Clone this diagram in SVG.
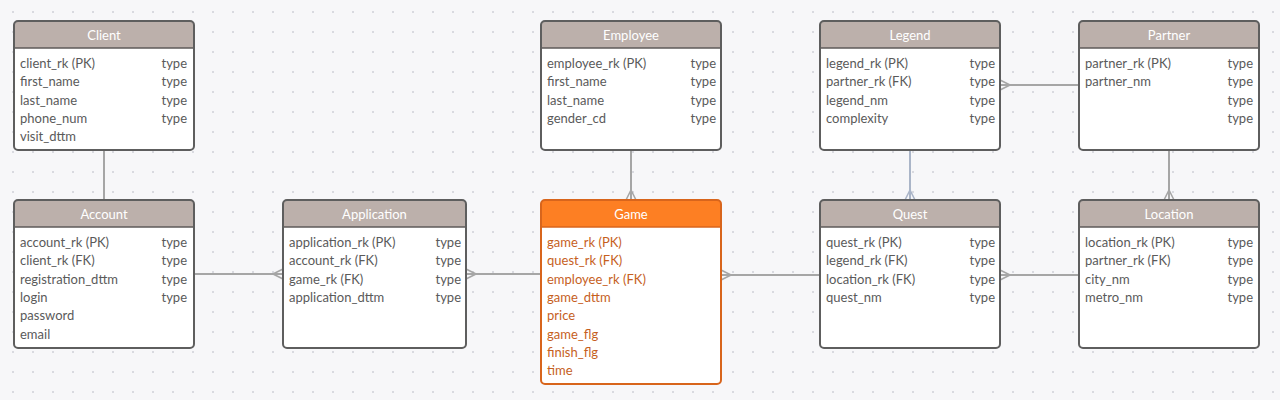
<svg xmlns="http://www.w3.org/2000/svg" width="1280" height="400" viewBox="0 0 1280 400">
<defs>
<pattern id="grid" x="3" y="2" width="20" height="20" patternUnits="userSpaceOnUse">
<circle cx="10" cy="10" r="1" fill="#cfd0d8"/>
</pattern>
<marker id="crow" markerUnits="userSpaceOnUse" markerWidth="16" markerHeight="16" refX="12" refY="8" orient="auto" viewBox="0 0 16 16">
<path d="M2,8 L12,3 M2,8 L12,13 M2,8 L12,8" fill="none" stroke="#a6a6a6" stroke-width="1.6"/>
</marker>
<marker id="crowB" markerUnits="userSpaceOnUse" markerWidth="16" markerHeight="16" refX="12" refY="8" orient="auto" viewBox="0 0 16 16">
<path d="M2,8 L12,3 M2,8 L12,13 M2,8 L12,8" fill="none" stroke="#aab5c8" stroke-width="1.6"/>
</marker>
</defs>
<style>
text{font-family:Lato,"Open Sans","Liberation Sans",sans-serif;font-size:13px}
.body{fill:#ffffff}
.hdr{fill:#bcb0ab}
.sep{stroke:#5e5a59;stroke-width:1.5}
.frame{fill:none;stroke:#5e5e5e;stroke-width:2}
.title{fill:#ffffff;text-anchor:middle}
.f{fill:#5a5a5a}
.t{fill:#5a5a5a;text-anchor:end}
.ghdr{fill:#fd7f23}
.gsep{stroke:#d8651c;stroke-width:1.5}
.gframe{fill:none;stroke:#d8651c;stroke-width:2}
.g{fill:#c65f1e}
.conn{fill:none;stroke:#a6a6a6;stroke-width:2}
.connB{fill:none;stroke:#aab5c8;stroke-width:2}
</style>
<rect width="1280" height="400" fill="#f7f7f9"/>
<rect width="1280" height="400" fill="url(#grid)"/>

<g id="connectors">
<path class="conn" d="M104,150 V200"/>
<path class="conn" d="M194,274 H283" marker-end="url(#crow)"/>
<path class="conn" d="M541,274 H466" marker-end="url(#crow)"/>
<path class="conn" d="M631,150 V200" marker-end="url(#crow)"/>
<path class="conn" d="M821,275 H721" marker-end="url(#crow)"/>
<path class="connB" d="M910,150 V200" marker-end="url(#crowB)"/>
<path class="conn" d="M1079,85 H1000" marker-end="url(#crow)"/>
<path class="conn" d="M1079,275 H1000" marker-end="url(#crow)"/>
<path class="conn" d="M1169,150 V200" marker-end="url(#crow)"/>
</g>

<g id="client" transform="translate(14,21)">
<rect class="body" width="180" height="129" rx="4"/>
<path class="hdr" d="M0,27 V4 Q0,0 4,0 H176 Q180,0 180,4 V27 Z"/>
<line class="sep" x1="0" y1="27" x2="180" y2="27"/>
<rect class="frame" width="180" height="129" rx="4"/>
<text class="title" x="90" y="19">Client</text>
<text class="f" x="6" y="47">client_rk (PK)</text><text class="t" x="173" y="47">type</text>
<text class="f" x="6" y="65.3">first_name</text><text class="t" x="173" y="65.3">type</text>
<text class="f" x="6" y="83.6">last_name</text><text class="t" x="173" y="83.6">type</text>
<text class="f" x="6" y="101.9">phone_num</text><text class="t" x="173" y="101.9">type</text>
<text class="f" x="6" y="120.2">visit_dttm</text>
</g>

<g id="account" transform="translate(14,200)">
<rect class="body" width="180" height="148" rx="4"/>
<path class="hdr" d="M0,27 V4 Q0,0 4,0 H176 Q180,0 180,4 V27 Z"/>
<line class="sep" x1="0" y1="27" x2="180" y2="27"/>
<rect class="frame" width="180" height="148" rx="4"/>
<text class="title" x="90" y="19">Account</text>
<text class="f" x="6" y="47">account_rk (PK)</text><text class="t" x="173" y="47">type</text>
<text class="f" x="6" y="65.3">client_rk (FK)</text><text class="t" x="173" y="65.3">type</text>
<text class="f" x="6" y="83.6">registration_dttm</text><text class="t" x="173" y="83.6">type</text>
<text class="f" x="6" y="101.9">login</text><text class="t" x="173" y="101.9">type</text>
<text class="f" x="6" y="120.2">password</text>
<text class="f" x="6" y="138.5">email</text>
</g>

<g id="application" transform="translate(283,200)">
<rect class="body" width="183" height="148" rx="4"/>
<path class="hdr" d="M0,27 V4 Q0,0 4,0 H179 Q183,0 183,4 V27 Z"/>
<line class="sep" x1="0" y1="27" x2="183" y2="27"/>
<rect class="frame" width="183" height="148" rx="4"/>
<text class="title" x="91.5" y="19">Application</text>
<text class="f" x="6" y="47">application_rk (PK)</text><text class="t" x="178" y="47">type</text>
<text class="f" x="6" y="65.3">account_rk (FK)</text><text class="t" x="178" y="65.3">type</text>
<text class="f" x="6" y="83.6">game_rk (FK)</text><text class="t" x="178" y="83.6">type</text>
<text class="f" x="6" y="101.9">application_dttm</text><text class="t" x="178" y="101.9">type</text>
</g>

<g id="employee" transform="translate(541,21)">
<rect class="body" width="180" height="129" rx="4"/>
<path class="hdr" d="M0,27 V4 Q0,0 4,0 H176 Q180,0 180,4 V27 Z"/>
<line class="sep" x1="0" y1="27" x2="180" y2="27"/>
<rect class="frame" width="180" height="129" rx="4"/>
<text class="title" x="90" y="19">Employee</text>
<text class="f" x="6" y="47">employee_rk (PK)</text><text class="t" x="175" y="47">type</text>
<text class="f" x="6" y="65.3">first_name</text><text class="t" x="175" y="65.3">type</text>
<text class="f" x="6" y="83.6">last_name</text><text class="t" x="175" y="83.6">type</text>
<text class="f" x="6" y="101.9">gender_cd</text><text class="t" x="175" y="101.9">type</text>
</g>

<g id="game" transform="translate(541,200)">
<rect class="body" width="180" height="184" rx="4"/>
<path class="ghdr" d="M0,27 V4 Q0,0 4,0 H176 Q180,0 180,4 V27 Z"/>
<line class="gsep" x1="0" y1="27" x2="180" y2="27"/>
<rect class="gframe" width="180" height="184" rx="4"/>
<text class="title" x="90" y="19">Game</text>
<text class="g" x="6" y="47">game_rk (PK)</text>
<text class="g" x="6" y="65.3">quest_rk (FK)</text>
<text class="g" x="6" y="83.6">employee_rk (FK)</text>
<text class="g" x="6" y="101.9">game_dttm</text>
<text class="g" x="6" y="120.2">price</text>
<text class="g" x="6" y="138.5">game_flg</text>
<text class="g" x="6" y="156.8">finish_flg</text>
<text class="g" x="6" y="175.1">time</text>
</g>

<g id="legend" transform="translate(820,21)">
<rect class="body" width="180" height="129" rx="4"/>
<path class="hdr" d="M0,27 V4 Q0,0 4,0 H176 Q180,0 180,4 V27 Z"/>
<line class="sep" x1="0" y1="27" x2="180" y2="27"/>
<rect class="frame" width="180" height="129" rx="4"/>
<text class="title" x="90" y="19">Legend</text>
<text class="f" x="6" y="47">legend_rk (PK)</text><text class="t" x="175" y="47">type</text>
<text class="f" x="6" y="65.3">partner_rk (FK)</text><text class="t" x="175" y="65.3">type</text>
<text class="f" x="6" y="83.6">legend_nm</text><text class="t" x="175" y="83.6">type</text>
<text class="f" x="6" y="101.9">complexity</text><text class="t" x="175" y="101.9">type</text>
</g>

<g id="quest" transform="translate(820,200)">
<rect class="body" width="180" height="148" rx="4"/>
<path class="hdr" d="M0,27 V4 Q0,0 4,0 H176 Q180,0 180,4 V27 Z"/>
<line class="sep" x1="0" y1="27" x2="180" y2="27"/>
<rect class="frame" width="180" height="148" rx="4"/>
<text class="title" x="90" y="19">Quest</text>
<text class="f" x="6" y="47">quest_rk (PK)</text><text class="t" x="175" y="47">type</text>
<text class="f" x="6" y="65.3">legend_rk (FK)</text><text class="t" x="175" y="65.3">type</text>
<text class="f" x="6" y="83.6">location_rk (FK)</text><text class="t" x="175" y="83.6">type</text>
<text class="f" x="6" y="101.9">quest_nm</text><text class="t" x="175" y="101.9">type</text>
</g>

<g id="partner" transform="translate(1079,21)">
<rect class="body" width="180" height="129" rx="4"/>
<path class="hdr" d="M0,27 V4 Q0,0 4,0 H176 Q180,0 180,4 V27 Z"/>
<line class="sep" x1="0" y1="27" x2="180" y2="27"/>
<rect class="frame" width="180" height="129" rx="4"/>
<text class="title" x="90" y="19">Partner</text>
<text class="f" x="6" y="47">partner_rk (PK)</text><text class="t" x="174" y="47">type</text>
<text class="f" x="6" y="65.3">partner_nm</text><text class="t" x="174" y="65.3">type</text>
<text class="t" x="174" y="83.6">type</text>
<text class="t" x="174" y="101.9">type</text>
</g>

<g id="location" transform="translate(1079,200)">
<rect class="body" width="180" height="148" rx="4"/>
<path class="hdr" d="M0,27 V4 Q0,0 4,0 H176 Q180,0 180,4 V27 Z"/>
<line class="sep" x1="0" y1="27" x2="180" y2="27"/>
<rect class="frame" width="180" height="148" rx="4"/>
<text class="title" x="90" y="19">Location</text>
<text class="f" x="6" y="47">location_rk (PK)</text><text class="t" x="174" y="47">type</text>
<text class="f" x="6" y="65.3">partner_rk (FK)</text><text class="t" x="174" y="65.3">type</text>
<text class="f" x="6" y="83.6">city_nm</text><text class="t" x="174" y="83.6">type</text>
<text class="f" x="6" y="101.9">metro_nm</text><text class="t" x="174" y="101.9">type</text>
</g>
</svg>
